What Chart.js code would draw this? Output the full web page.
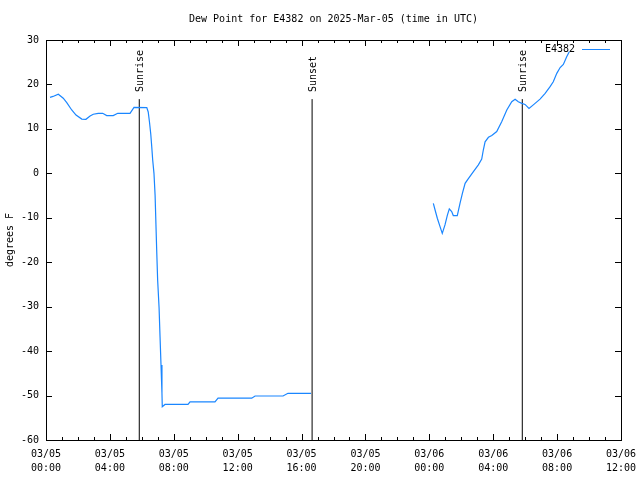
<!DOCTYPE html>
<html>
<head>
<meta charset="utf-8">
<script src="https://cdn.jsdelivr.net/npm/chart.js@4/dist/chart.umd.min.js"></script>
<style>
  html, body { margin: 0; padding: 0; background: #fff; }
  canvas { display: block; }
</style>
</head>
<body>
<canvas id="c" width="640" height="480"></canvas>
<script>
// hours since 03/05 00:00 UTC; null splits the two observed stretches
const timeHours = [
  0.25, 0.44, 0.77, 1.08, 1.30, 1.61, 1.88, 2.24, 2.50, 2.76, 2.96, 3.27, 3.55, 3.80,
  4.21, 4.49, 5.26, 5.51, 6.31, 6.40, 6.48, 6.56, 6.62, 6.68, 6.76, 6.83, 6.93, 6.99,
  7.08, 7.14, 7.20, 7.26, 7.28, 7.45, 8.89, 9.02, 10.58, 10.77, 12.88, 13.09, 14.84,
  15.15, 16.59,
  20.0,
  24.25, 24.36, 24.50, 24.67, 24.81, 24.98, 25.13, 25.25, 25.40, 25.50, 25.75, 25.92,
  26.07, 26.24, 26.41, 26.76, 27.07, 27.28, 27.38, 27.49, 27.70, 27.91, 28.22, 28.53,
  28.85, 29.16, 29.37, 29.57, 29.79, 29.99, 30.24, 30.51, 30.93, 31.25, 31.56, 31.76,
  31.98, 32.19, 32.39, 32.60, 32.77
];
const dewPointF = [
  17.1, 17.3, 17.8, 16.9, 15.9, 14.25, 13.1, 12.2, 12.15, 12.9, 13.3, 13.5, 13.5, 13.0,
  13.0, 13.5, 13.5, 14.85, 14.8, 13.8, 11.5, 8.8, 6.0, 3.0, 0.0, -4.9, -17.25, -24,
  -30.3, -36.8, -43.1, -49.5, -52.5, -52.0, -52.0, -51.4, -51.4, -50.6, -50.6, -50.1, -50.1,
  -49.5, -49.5,
  null,
  -6.75, -8.25, -10.1, -12.0, -13.5, -11.6, -9.4, -8.0, -8.6, -9.5, -9.5, -6.75,
  -4.5, -2.25, -1.35, 0.4, 1.9, 3.2, 5.25, 7.1, 8.1, 8.5, 9.4, 11.6,
  14.25, 16.1, 16.65, 16.1, 15.75, 15.5, 14.6, 15.4, 16.7, 18.0, 19.5, 20.6,
  22.5, 23.8, 24.5, 26.25, 27.4
];

const eventHours = [5.84, 16.66, 29.82];
const eventNames = ['Sunrise', 'Sunset', 'Sunrise'];
const eventTop = 16.7;

const seriesName = 'E4382';
const titleText = 'Dew Point for E4382 on 2025-Mar-05 (time in UTC)';
const yTitle = 'degrees F';
const dayLabels = ['03/05', '03/06'];

const FONT = '10px "DejaVu Sans Mono", "Liberation Mono", monospace';
const LINE_COLOR = '#1a86ff';

function hourLabel(h) {
  if (h % 4 !== 0) return '';
  const day = dayLabels[Math.floor(h / 24)];
  const hh = String(h % 24).padStart(2, '0');
  return [day, hh + ':00'];
}

const datasets = [{
  label: seriesName,
  data: timeHours.map((h, i) => ({ x: h, y: dewPointF[i] })),
  borderColor: LINE_COLOR,
  borderWidth: 1.2,
  pointRadius: 0,
  tension: 0,
  spanGaps: false
}];
eventHours.forEach((h, i) => {
  datasets.push({
    label: eventNames[i],
    data: [{ x: h, y: -60 }, { x: h, y: eventTop }],
    borderColor: '#000',
    borderWidth: 1,
    pointRadius: 0
  });
});

// frame, inward ticks, title, legend and event labels, gnuplot style
const decor = {
  id: 'decor',
  afterDraw(chart) {
    const { ctx, chartArea: a, scales: { x, y } } = chart;
    ctx.save();
    ctx.strokeStyle = '#000';
    ctx.lineWidth = 1;
    ctx.strokeRect(Math.round(a.left) + 0.5, Math.round(a.top) + 0.5,
      Math.round(a.right - a.left), Math.round(a.bottom - a.top));

    ctx.beginPath();
    for (let h = 0; h <= 36; h++) {
      const px = Math.round(x.getPixelForValue(h)) + 0.5;
      const len = h % 4 === 0 ? 6 : 3;
      ctx.moveTo(px, a.bottom); ctx.lineTo(px, a.bottom - len);
      ctx.moveTo(px, a.top); ctx.lineTo(px, a.top + len);
    }
    for (let v = -60; v <= 30; v += 10) {
      const py = Math.round(y.getPixelForValue(v)) + 0.5;
      ctx.moveTo(a.left, py); ctx.lineTo(a.left + 6, py);
      ctx.moveTo(a.right, py); ctx.lineTo(a.right - 6, py);
    }
    ctx.stroke();

    ctx.fillStyle = '#000';
    ctx.font = FONT;
    ctx.textBaseline = 'middle';
    ctx.textAlign = 'center';
    ctx.fillText(titleText, (a.left + a.right) / 2, 19);

    ctx.save();
    ctx.translate(10, (a.top + a.bottom) / 2);
    ctx.rotate(-Math.PI / 2);
    ctx.fillText(yTitle, 0, 0);
    ctx.restore();

    const topPx = y.getPixelForValue(eventTop);
    eventHours.forEach((h, i) => {
      ctx.save();
      ctx.translate(x.getPixelForValue(h) + 1.5, topPx - 7);
      ctx.rotate(-Math.PI / 2);
      ctx.textAlign = 'left';
      ctx.fillText(eventNames[i], 0, 0);
      ctx.restore();
    });

    ctx.textAlign = 'right';
    ctx.fillText(seriesName, 575, 49);
    ctx.strokeStyle = LINE_COLOR;
    ctx.beginPath();
    ctx.moveTo(582, 49.5); ctx.lineTo(610, 49.5);
    ctx.stroke();
    ctx.restore();
  }
};

new Chart(document.getElementById('c'), {
  type: 'line',
  data: { datasets },
  plugins: [decor],
  options: {
    responsive: false,
    animation: false,
    devicePixelRatio: 1,
    layout: { padding: { top: 40, right: 19, left: 0, bottom: 0 } },
    plugins: { legend: { display: false }, title: { display: false }, tooltip: { enabled: false } },
    scales: {
      x: {
        type: 'linear', min: 0, max: 36,
        grid: { display: false, drawTicks: false }, border: { display: false },
        ticks: {
          stepSize: 1, autoSkip: false, maxRotation: 0, minRotation: 0,
          color: '#000', font: { family: '"DejaVu Sans Mono"', size: 10, lineHeight: 1.4 },
          padding: 7, callback: v => hourLabel(v)
        },
        afterFit: s => { s.height = 40; s.paddingLeft = 0; s.paddingRight = 0; }
      },
      y: {
        min: -60, max: 30,
        grid: { display: false, drawTicks: false }, border: { display: false },
        ticks: {
          stepSize: 10, color: '#000', padding: 7,
          font: { family: '"DejaVu Sans Mono"', size: 10 }
        },
        afterFit: s => { s.width = 46; }
      }
    }
  }
});
</script>
</body>
</html>
